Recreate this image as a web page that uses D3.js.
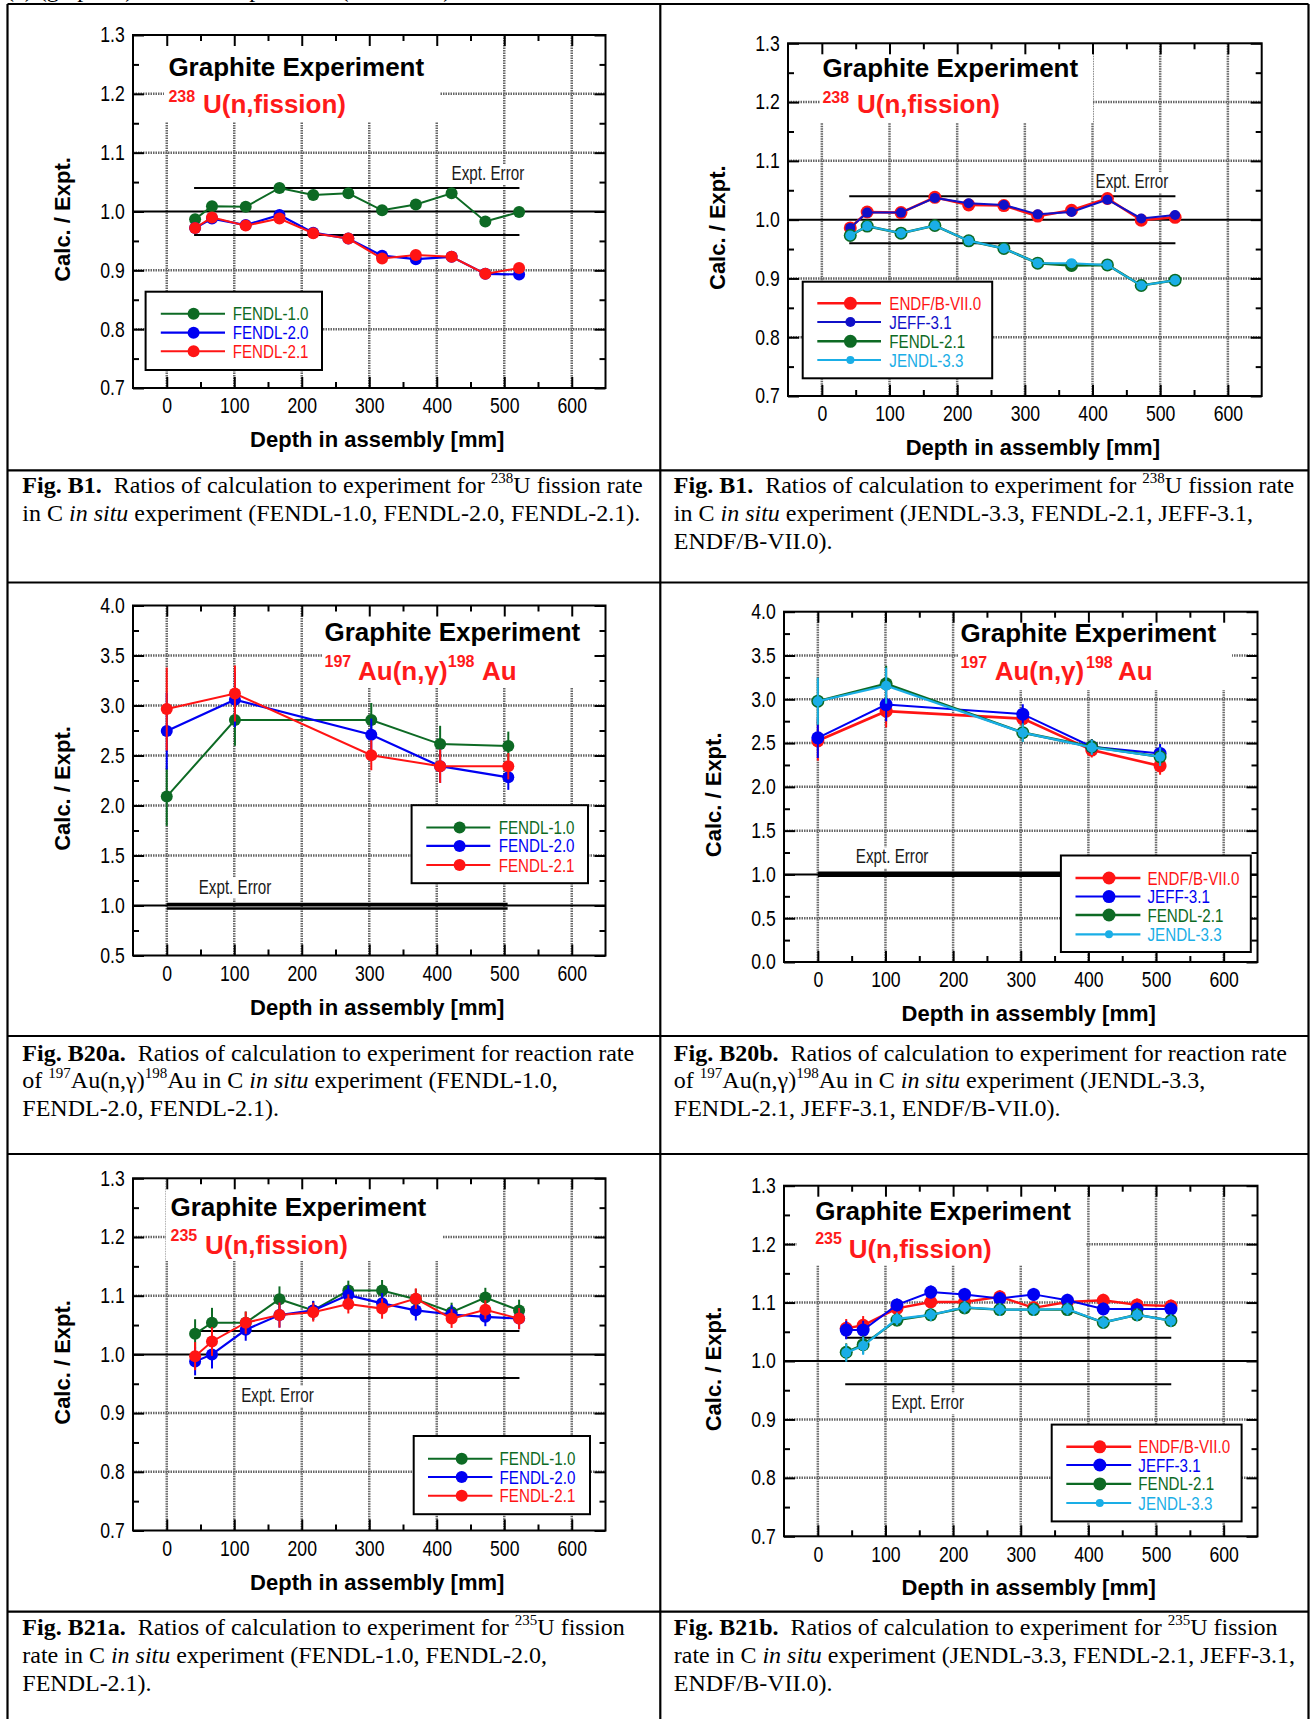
<!DOCTYPE html>
<html>
<head>
<meta charset="utf-8">
<script src="https://cdn.jsdelivr.net/npm/d3@7"></script>
<style>
  html, body { margin: 0; padding: 0; background: #fff; }
  svg { display: block; }
</style>
</head>
<body>
<svg id="fig" width="1311" height="1719"></svg>
<script>
// ---------------- data ----------------
const depthDomain = [-50, 650];
const depthTicks = [0, 100, 200, 300, 400, 500, 600];
const depthMinor = [50, 150, 250, 350, 450, 550];

const ratioTicks = [0.7, 0.8, 0.9, 1.0, 1.1, 1.2, 1.3];
const ratioMinor = [0.75, 0.85, 0.95, 1.05, 1.15, 1.25];
const goldTicksA = [0.5, 1.0, 1.5, 2.0, 2.5, 3.0, 3.5, 4.0];
const goldMinorA = [0.75, 1.25, 1.75, 2.25, 2.75, 3.25, 3.75];
const goldTicksB = [0.0, 0.5, 1.0, 1.5, 2.0, 2.5, 3.0, 3.5, 4.0];
const goldMinorB = [0.25, 0.75, 1.25, 1.75, 2.25, 2.75, 3.25, 3.75];

// foil positions in the assembly (mm)
const fissionDepth = [42, 67, 117, 167, 217, 269, 319, 369, 422, 472, 522];
const goldDepth = [0, 101, 303, 405, 506];

// 238U(n,fission) C/E
const u238Fendl10 = [0.987, 1.009, 1.008, 1.040, 1.028, 1.031, 1.002, 1.012, 1.031, 0.983, 0.999];
const u238Fendl20 = [0.972, 0.988, 0.977, 0.994, 0.964, 0.954, 0.925, 0.919, 0.923, 0.894, 0.893];
const u238Fendl21 = [0.972, 0.990, 0.976, 0.988, 0.963, 0.954, 0.920, 0.926, 0.923, 0.894, 0.904];
const u238Endf70  = [0.986, 1.013, 1.012, 1.038, 1.025, 1.024, 1.006, 1.016, 1.036, 0.999, 1.004];
const u238Jeff31  = [0.986, 1.012, 1.012, 1.037, 1.028, 1.025, 1.009, 1.013, 1.034, 1.002, 1.008];
const u238Fendl21b = [0.973, 0.989, 0.977, 0.990, 0.964, 0.951, 0.926, 0.922, 0.923, 0.888, 0.897];
const u238Jendl33 = [0.973, 0.989, 0.977, 0.990, 0.964, 0.951, 0.926, 0.926, 0.923, 0.888, 0.897];
const u238ExptErr = [0.96, 1.04];

// 197Au(n,gamma)198Au C/E
const auFendl10 = [2.089, 2.854, 2.854, 2.614, 2.596];
const auFendl20 = [2.744, 3.058, 2.707, 2.393, 2.282];
const auFendl21 = [2.965, 3.120, 2.503, 2.393, 2.393];
const auRelErrA = [0.14, 0.09, 0.06, 0.07, 0.055];
const auEndf70  = [2.526, 2.864, 2.779, 2.420, 2.239];
const auJeff31  = [2.560, 2.940, 2.830, 2.458, 2.382];
const auFendl21b = [2.978, 3.176, 2.619, 2.458, 2.344];
const auJendl33 = [2.978, 3.155, 2.619, 2.450, 2.344];
const auRelErrB = [0.09, 0.065, 0.04, 0.035, 0.045];
const auExptErrA = [0.97, 1.015];
const auExptErrB = [0.985, 1.02];

// 235U(n,fission) C/E
const u235Fendl10 = [1.035, 1.054, 1.054, 1.094, 1.075, 1.109, 1.109, 1.094, 1.072, 1.097, 1.075];
const u235Fendl20 = [0.988, 1.000, 1.042, 1.067, 1.075, 1.101, 1.087, 1.075, 1.068, 1.064, 1.061];
const u235Fendl21 = [0.997, 1.022, 1.054, 1.067, 1.072, 1.086, 1.078, 1.095, 1.061, 1.076, 1.061];
const u235RelErrA = [0.024, 0.024, 0.018, 0.02, 0.015, 0.015, 0.016, 0.016, 0.015, 0.015, 0.017];
const u235Endf70  = [1.056, 1.061, 1.090, 1.101, 1.101, 1.110, 1.091, 1.101, 1.104, 1.096, 1.094];
const u235Jeff31  = [1.053, 1.053, 1.096, 1.118, 1.114, 1.107, 1.114, 1.104, 1.089, 1.089, 1.089];
const u235Fendl21b = [1.015, 1.028, 1.070, 1.079, 1.091, 1.088, 1.088, 1.088, 1.066, 1.079, 1.069];
const u235Jendl33 = [1.014, 1.026, 1.072, 1.079, 1.092, 1.088, 1.088, 1.089, 1.066, 1.079, 1.069];
const u235RelErrB = [0.015, 0.015, 0.01, 0.01, 0.01, 0.01, 0.01, 0.01, 0.01, 0.01, 0.01];
const u235ExptErr = [0.96, 1.04];

// ---------------- styles ----------------
const SANS = "'Liberation Sans', Arial, Helvetica, sans-serif";
const SERIF = "'Liberation Serif', 'Times New Roman', Times, serif";
const C_GREEN = "#0d6a24";
const C_BLUE = "#0000f2";
const C_NAVY = "#1010c8";
const C_RED = "#ff1414";
const C_CYAN = "#1aaee6";
const C_TITLE = "#ff1a1a";

const svg = d3.select("#fig");

// ---------------- helpers ----------------
function narrowText(g, x, y, str, size, sx, fill, anchor) {
  return g.append("text")
    .attr("transform", `translate(${x},${y}) scale(${sx},1)`)
    .attr("font-family", SANS)
    .attr("font-size", size)
    .attr("fill", fill)
    .attr("text-anchor", anchor || "start")
    .text(str);
}

function drawPanel(p) {
  const { l, r, t, b } = p.frame;
  const g = svg.append("g");
  const x = d3.scaleLinear().domain(depthDomain).range([l, r]);
  const y = d3.scaleLinear().domain(p.yDomain).range([b, t]);

  // dotted grid
  const grid = g.append("g")
    .attr("stroke", "#666")
    .attr("stroke-width", 2.5)
    .attr("stroke-dasharray", "1.5,1");
  grid.selectAll("line.v").data(depthTicks).join("line").attr("class", "v")
    .attr("x1", d => x(d)).attr("x2", d => x(d)).attr("y1", t).attr("y2", b);
  const hLevels = p.yTicks.filter(v => v !== 1 && v !== p.yDomain[0] && v !== p.yDomain[1]);
  grid.selectAll("line.h").data(hLevels).join("line").attr("class", "h")
    .attr("x1", l).attr("x2", r).attr("y1", d => y(d)).attr("y2", d => y(d));

  // white panel behind the plot title
  const tb = p.titleBox;
  g.append("rect").attr("x", tb[0]).attr("y", tb[1]).attr("width", tb[2] - tb[0]).attr("height", tb[3] - tb[1])
    .attr("fill", "#fff");

  // unity line
  g.append("line").attr("x1", l).attr("x2", r).attr("y1", y(1)).attr("y2", y(1))
    .attr("stroke", "#000").attr("stroke-width", 2);

  // experimental uncertainty band edges
  g.append("g").selectAll("line").data(p.exptErr).join("line")
    .attr("x1", x(p.exptRange[0])).attr("x2", x(p.exptRange[1]))
    .attr("y1", d => y(d)).attr("y2", d => y(d))
    .attr("stroke", "#000").attr("stroke-width", p.exptWidth);

  // "Expt. Error" label with a white backing
  const el = p.exptLabel;
  g.append("rect").attr("x", el[0] - 2).attr("y", el[1] - 16).attr("width", 77).attr("height", 21).attr("fill", "#fff");
  narrowText(g, el[0], el[1], "Expt. Error", 19.5, 0.78, "#1a1a1a");

  // data series
  const lineGen = d3.line().x(d => x(d[0])).y(d => y(d[1]));
  p.series.forEach(s => {
    const pts = p.depth.map((d, i) => [d, s.values[i]]);
    const sg = g.append("g");
    sg.append("path").datum(pts).attr("d", lineGen)
      .attr("fill", "none").attr("stroke", s.color).attr("stroke-width", s.width);
    if (s.relErr) {
      sg.selectAll("line.err").data(pts).join("line").attr("class", "err")
        .attr("x1", d => x(d[0])).attr("x2", d => x(d[0]))
        .attr("y1", (d, i) => y(d[1] * (1 + s.relErr[i])))
        .attr("y2", (d, i) => y(d[1] * (1 - s.relErr[i])))
        .attr("stroke", s.color).attr("stroke-width", 2);
    }
    sg.selectAll("circle").data(pts).join("circle")
      .attr("cx", d => x(d[0])).attr("cy", d => y(d[1])).attr("r", s.r)
      .attr("fill", s.color);
  });

  // frame
  g.append("rect").attr("x", l).attr("y", t).attr("width", r - l).attr("height", b - t)
    .attr("fill", "none").attr("stroke", "#000").attr("stroke-width", 2);

  // inward ticks on all four sides
  const styleAxis = sel => {
    sel.select(".domain").remove();
    sel.selectAll("line").attr("stroke-width", 2);
  };
  const bottom = g.append("g").attr("transform", `translate(0,${b})`)
    .call(d3.axisBottom(x).tickValues(depthTicks).tickSize(-11).tickPadding(10).tickFormat(d3.format("d")))
    .call(styleAxis);
  bottom.selectAll("text").attr("font-family", SANS).attr("font-size", 21.5)
    .attr("transform", "scale(0.82,1)").attr("fill", "#000");
  g.append("g").attr("transform", `translate(0,${b})`)
    .call(d3.axisBottom(x).tickValues(depthMinor).tickSize(-6).tickFormat("")).call(styleAxis);
  g.append("g").attr("transform", `translate(0,${t})`)
    .call(d3.axisTop(x).tickValues(depthTicks).tickSize(-11).tickFormat("")).call(styleAxis);
  g.append("g").attr("transform", `translate(0,${t})`)
    .call(d3.axisTop(x).tickValues(depthMinor).tickSize(-6).tickFormat("")).call(styleAxis);

  const left = g.append("g").attr("transform", `translate(${l},0)`)
    .call(d3.axisLeft(y).tickValues(p.yTicks).tickSize(-11).tickPadding(10).tickFormat(d3.format(".1f")))
    .call(styleAxis);
  left.selectAll("text").attr("font-family", SANS).attr("font-size", 21.5)
    .attr("transform", "scale(0.82,1)").attr("fill", "#000");
  g.append("g").attr("transform", `translate(${l},0)`)
    .call(d3.axisLeft(y).tickValues(p.yMinor).tickSize(-6).tickFormat("")).call(styleAxis);
  g.append("g").attr("transform", `translate(${r},0)`)
    .call(d3.axisRight(y).tickValues(p.yTicks).tickSize(-11).tickFormat("")).call(styleAxis);
  g.append("g").attr("transform", `translate(${r},0)`)
    .call(d3.axisRight(y).tickValues(p.yMinor).tickSize(-6).tickFormat("")).call(styleAxis);

  // legend
  const lg = p.legend;
  g.append("rect").attr("x", lg.box[0]).attr("y", lg.box[1])
    .attr("width", lg.box[2] - lg.box[0]).attr("height", lg.box[3] - lg.box[1])
    .attr("fill", "#fff").attr("stroke", "#000").attr("stroke-width", 2);
  p.legendOrder.forEach((idx, k) => {
    const s = p.series[idx];
    const ry = lg.rows[k];
    g.append("line").attr("x1", lg.line[0]).attr("x2", lg.line[1]).attr("y1", ry).attr("y2", ry)
      .attr("stroke", s.color).attr("stroke-width", s.legendWidth || s.width);
    g.append("circle").attr("cx", lg.marker).attr("cy", ry).attr("r", s.legendR || s.r).attr("fill", s.color);
    narrowText(g, lg.text, ry + 6.5, s.name, 18.5, 0.82, s.color);
  });

  // plot title
  const tt = p.title;
  g.append("text").attr("x", tt.x).attr("y", tt.y).attr("font-family", SANS).attr("font-weight", "bold")
    .attr("font-size", 26).attr("fill", "#000").text("Graphite Experiment");
  const rx = g.append("text").attr("font-family", SANS).attr("font-weight", "bold").attr("fill", C_TITLE);
  tt.parts.forEach(pt => {
    rx.append("tspan").attr("x", pt[1]).attr("y", pt[2]).attr("font-size", pt[3]).text(pt[0]);
  });

  // axis titles
  const cy = (t + b) / 2 + 8;
  g.append("text").attr("transform", `translate(${l - 71},${cy}) rotate(-90)`)
    .attr("text-anchor", "middle").attr("dy", "0.35em")
    .attr("font-family", SANS).attr("font-weight", "bold").attr("font-size", 22).text("Calc. / Expt.");
  g.append("text").attr("x", x(300) + 8).attr("y", b + 59).attr("text-anchor", "middle")
    .attr("font-family", SANS).attr("font-weight", "bold").attr("font-size", 22).text("Depth in assembly [mm]");
}

// ---------------- panels ----------------
const panels = [
  { // 238U, FENDL family
    frame: { l: 133, r: 605.5, t: 35, b: 388 },
    yDomain: [0.7, 1.3], yTicks: ratioTicks, yMinor: ratioMinor,
    depth: fissionDepth,
    series: [
      { name: "FENDL-1.0", values: u238Fendl10, color: C_GREEN, r: 6, width: 2 },
      { name: "FENDL-2.0", values: u238Fendl20, color: C_BLUE, r: 6, width: 2.2 },
      { name: "FENDL-2.1", values: u238Fendl21, color: C_RED, r: 6, width: 2 }
    ],
    legendOrder: [0, 1, 2],
    legend: { box: [145.6, 291.7, 322, 370], line: [160.8, 225], marker: 193.6, text: 232.7, rows: [313.7, 332.7, 351.3] },
    exptErr: u238ExptErr, exptRange: [40.5, 522.5], exptWidth: 2, exptLabel: [451.6, 180],
    titleBox: [164, 35, 440, 122],
    title: { x: 168.4, y: 76, parts: [["238", 168.4, 101.7, 16], ["U(n,fission)", 203, 113, 26]] }
  },
  { // 238U, other libraries
    frame: { l: 788, r: 1261.7, t: 43.3, b: 396 },
    yDomain: [0.7, 1.3], yTicks: ratioTicks, yMinor: ratioMinor,
    depth: fissionDepth,
    series: [
      { name: "ENDF/B-VII.0", values: u238Endf70, color: C_RED, r: 6.5, width: 2.6 },
      { name: "JEFF-3.1", values: u238Jeff31, color: C_NAVY, r: 5, width: 2, legendR: 5 },
      { name: "FENDL-2.1", values: u238Fendl21b, color: C_GREEN, r: 6.5, width: 2.6 },
      { name: "JENDL-3.3", values: u238Jendl33, color: C_CYAN, r: 5, width: 2, legendR: 4 }
    ],
    legendOrder: [0, 1, 2, 3],
    legend: { box: [802.7, 281.7, 992.2, 378.3], line: [817.3, 881], marker: 850.4, text: 889.3, rows: [303.3, 322, 341.3, 360] },
    exptErr: u238ExptErr, exptRange: [40.5, 522.5], exptWidth: 2, exptLabel: [1095.6, 188.3],
    titleBox: [820, 43.3, 1093, 123],
    title: { x: 822.4, y: 76.7, parts: [["238", 822.4, 102.7, 16], ["U(n,fission)", 857, 113.3, 26]] }
  },
  { // 197Au, FENDL family
    frame: { l: 133, r: 605.5, t: 605.5, b: 955.5 },
    yDomain: [0.5, 4.0], yTicks: goldTicksA, yMinor: goldMinorA,
    depth: goldDepth,
    series: [
      { name: "FENDL-1.0", values: auFendl10, color: C_GREEN, r: 6, width: 2, relErr: auRelErrA },
      { name: "FENDL-2.0", values: auFendl20, color: C_BLUE, r: 6, width: 2.2, relErr: auRelErrA },
      { name: "FENDL-2.1", values: auFendl21, color: C_RED, r: 6, width: 2, relErr: auRelErrA }
    ],
    legendOrder: [0, 1, 2],
    legend: { box: [411.6, 805.2, 588, 883.2], line: [426.3, 490.3], marker: 459.6, text: 498.7, rows: [827.4, 845.9, 865.1] },
    exptErr: auExptErrA, exptRange: [0, 505], exptWidth: 2.5, exptLabel: [198.7, 893.6],
    titleBox: [322, 605.5, 603, 688],
    title: { x: 324.5, y: 641.3, parts: [["197", 324.5, 666.8, 16], ["Au(n,\u03b3)", 358, 680, 26], ["198", 447.8, 666.8, 16], ["Au", 482, 680, 26]] }
  },
  { // 197Au, other libraries
    frame: { l: 784, r: 1257.5, t: 611.7, b: 962 },
    yDomain: [0.0, 4.0], yTicks: goldTicksB, yMinor: goldMinorB,
    depth: goldDepth,
    series: [
      { name: "ENDF/B-VII.0", values: auEndf70, color: C_RED, r: 6.5, width: 2.6, relErr: auRelErrB },
      { name: "JEFF-3.1", values: auJeff31, color: C_BLUE, r: 6.5, width: 2, relErr: auRelErrB },
      { name: "FENDL-2.1", values: auFendl21b, color: C_GREEN, r: 6.5, width: 2.6, relErr: auRelErrB },
      { name: "JENDL-3.3", values: auJendl33, color: C_CYAN, r: 5, width: 2.2, legendR: 4, relErr: auRelErrB }
    ],
    legendOrder: [0, 1, 2, 3],
    legend: { box: [1060.9, 855.5, 1250.8, 952], line: [1075.5, 1140.4], marker: 1109, text: 1147.5, rows: [878, 896.6, 915, 934.3] },
    exptErr: auExptErrB, exptRange: [0, 505], exptWidth: 2.5, exptLabel: [855.8, 863.3],
    titleBox: [958, 611.7, 1232, 690],
    title: { x: 960.4, y: 642.4, parts: [["197", 960.4, 668, 16], ["Au(n,\u03b3)", 994.7, 680, 26], ["198", 1086, 668, 16], ["Au", 1118, 680, 26]] }
  },
  { // 235U, FENDL family
    frame: { l: 133, r: 605.5, t: 1178.3, b: 1530.5 },
    yDomain: [0.7, 1.3], yTicks: ratioTicks, yMinor: ratioMinor,
    depth: fissionDepth,
    series: [
      { name: "FENDL-1.0", values: u235Fendl10, color: C_GREEN, r: 6, width: 2, relErr: u235RelErrA },
      { name: "FENDL-2.0", values: u235Fendl20, color: C_BLUE, r: 6, width: 2.2, relErr: u235RelErrA },
      { name: "FENDL-2.1", values: u235Fendl21, color: C_RED, r: 6, width: 2, relErr: u235RelErrA }
    ],
    legendOrder: [0, 1, 2],
    legend: { box: [413.7, 1436, 590, 1514.2], line: [428, 492.4], marker: 461.7, text: 499.6, rows: [1458.7, 1477, 1495.8] },
    exptErr: u235ExptErr, exptRange: [40.5, 522.5], exptWidth: 2, exptLabel: [241.2, 1402],
    titleBox: [166, 1178.3, 442, 1261],
    title: { x: 170.5, y: 1216.4, parts: [["235", 170.5, 1241, 16], ["U(n,fission)", 205, 1254, 26]] }
  },
  { // 235U, other libraries
    frame: { l: 784, r: 1257.5, t: 1185.7, b: 1536.3 },
    yDomain: [0.7, 1.3], yTicks: ratioTicks, yMinor: ratioMinor,
    depth: fissionDepth,
    series: [
      { name: "ENDF/B-VII.0", values: u235Endf70, color: C_RED, r: 6.5, width: 2.4, relErr: u235RelErrB },
      { name: "JEFF-3.1", values: u235Jeff31, color: C_BLUE, r: 6.5, width: 2, relErr: u235RelErrB },
      { name: "FENDL-2.1", values: u235Fendl21b, color: C_GREEN, r: 6.5, width: 2.4, relErr: u235RelErrB },
      { name: "JENDL-3.3", values: u235Jendl33, color: C_CYAN, r: 5, width: 2.2, legendR: 4, relErr: u235RelErrB }
    ],
    legendOrder: [0, 1, 2, 3],
    legend: { box: [1051.7, 1424.6, 1241.6, 1521.4], line: [1066.3, 1131.2], marker: 1099.8, text: 1138.3, rows: [1446.8, 1465, 1483.9, 1503] },
    exptErr: u235ExptErr, exptRange: [40.5, 522.5], exptWidth: 2, exptLabel: [891.4, 1409.2],
    titleBox: [797, 1185.7, 1086, 1265],
    title: { x: 815.2, y: 1219.8, parts: [["235", 815.2, 1244, 16], ["U(n,fission)", 848.7, 1257.8, 26]] }
  }
];

// ---------------- page frame ----------------
const frameG = svg.append("g").attr("stroke", "#000").attr("stroke-width", 2.2);
[[7.5, 4, 1308.5, 4]].concat(
  [470.3, 582.5, 1036, 1154, 1611.7].map(v => [7.5, v, 1308.5, v]),
  [7.5, 660.3, 1308.5].map(v => [v, 4, v, 1719])
).forEach(c => frameG.append("line").attr("x1", c[0]).attr("y1", c[1]).attr("x2", c[2]).attr("y2", c[3]));

// running header, cut by the page edge
svg.append("text").attr("x", 6).attr("y", -3).attr("font-family", SERIF).attr("font-size", 24)
  .text("(c)  (graphite) C in situ experiment (continued)");

panels.forEach(drawPanel);

// ---------------- captions ----------------
// segment kinds: b = bold, n = normal, i = italic, s = superscript
const captions = [
  { x: 22.3, y: 493, lines: [
    [["b", "Fig. B1."], ["n", "\u00a0 Ratios of calculation to experiment for "], ["s", "238"], ["n", "U fission rate"]],
    [["n", "in C "], ["i", "in situ"], ["n", " experiment (FENDL-1.0, FENDL-2.0, FENDL-2.1)."]]
  ]},
  { x: 673.8, y: 493, lines: [
    [["b", "Fig. B1."], ["n", "\u00a0 Ratios of calculation to experiment for "], ["s", "238"], ["n", "U fission rate"]],
    [["n", "in C "], ["i", "in situ"], ["n", " experiment (JENDL-3.3, FENDL-2.1, JEFF-3.1,"]],
    [["n", "ENDF/B-VII.0)."]]
  ]},
  { x: 22.3, y: 1060.5, lines: [
    [["b", "Fig. B20a."], ["n", "\u00a0 Ratios of calculation to experiment for reaction rate"]],
    [["n", "of "], ["s", "197"], ["n", "Au(n,\u03b3)"], ["s", "198"], ["n", "Au in C "], ["i", "in situ"], ["n", " experiment (FENDL-1.0,"]],
    [["n", "FENDL-2.0, FENDL-2.1)."]]
  ]},
  { x: 673.8, y: 1060.5, lines: [
    [["b", "Fig. B20b."], ["n", "\u00a0 Ratios of calculation to experiment for reaction rate"]],
    [["n", "of "], ["s", "197"], ["n", "Au(n,\u03b3)"], ["s", "198"], ["n", "Au in C "], ["i", "in situ"], ["n", " experiment (JENDL-3.3,"]],
    [["n", "FENDL-2.1, JEFF-3.1, ENDF/B-VII.0)."]]
  ]},
  { x: 22.3, y: 1635, lines: [
    [["b", "Fig. B21a."], ["n", "\u00a0 Ratios of calculation to experiment for "], ["s", "235"], ["n", "U fission"]],
    [["n", "rate in C "], ["i", "in situ"], ["n", " experiment (FENDL-1.0, FENDL-2.0,"]],
    [["n", "FENDL-2.1)."]]
  ]},
  { x: 673.8, y: 1635, lines: [
    [["b", "Fig. B21b."], ["n", "\u00a0 Ratios of calculation to experiment for "], ["s", "235"], ["n", "U fission"]],
    [["n", "rate in C "], ["i", "in situ"], ["n", " experiment (JENDL-3.3, FENDL-2.1, JEFF-3.1,"]],
    [["n", "ENDF/B-VII.0)."]]
  ]}
];

captions.forEach(c => {
  c.lines.forEach((segs, li) => {
    const t = svg.append("text").attr("x", c.x).attr("y", c.y + li * 27.8)
      .attr("font-family", SERIF).attr("font-size", 24).attr("fill", "#000");
    let raised = false;
    segs.forEach(([kind, str]) => {
      const ts = t.append("tspan").text(str);
      if (kind === "b") ts.attr("font-weight", "bold");
      if (kind === "i") ts.attr("font-style", "italic");
      if (kind === "s") {
        ts.attr("font-size", 15).attr("dy", raised ? 0 : -10);
        raised = true;
      } else if (raised) {
        ts.attr("dy", 10);
        raised = false;
      }
    });
  });
});
</script>
</body>
</html>
